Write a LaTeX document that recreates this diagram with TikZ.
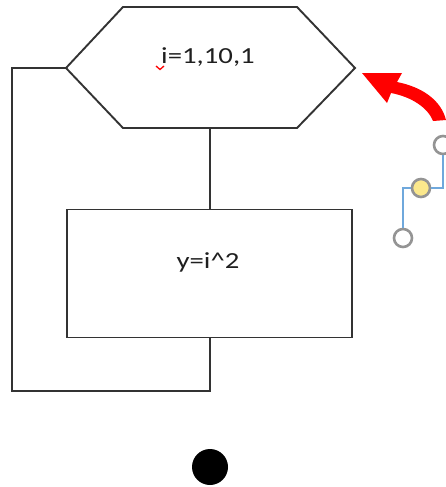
\documentclass[tikz,border=0pt]{standalone}
\usepackage{fontspec}
\newfontfamily\lab[FakeStretch=1.25]{Carlito}
\begin{document}
\begin{tikzpicture}[x=1pt,y=-1pt,
  shapeline/.style={draw=black!80, line width=1.9pt},
  labeltext/.style={font=\lab\fontsize{23}{27}\selectfont, text=black!88, inner sep=0pt},
  handle/.style={circle, draw=black!42, line width=2.6pt, minimum size=18pt, inner sep=0pt},
  handlelink/.style={line width=1.3pt, color={rgb,255:red,111;green,168;blue,220}}]
\useasboundingbox (0,0) rectangle (446,487);
% hexagon (loop header)
\coordinate (hexL) at (66,68);
\coordinate (hexR) at (355,68);
\coordinate (hexTL) at (123,7);
\coordinate (hexTR) at (297,7);
\coordinate (hexBL) at (123,128);
\coordinate (hexBR) at (297,128);
\coordinate (hexB) at (210,128);
\draw[shapeline, line join=miter] (hexL) -- (hexTL) -- (hexTR) -- (hexR) -- (hexBR) -- (hexBL) -- cycle;
\node[labeltext] (hextext) at (208,57) {i=1,10,1};
% spell-check squiggle
\draw[red, line width=1.3pt] (156,66) -- (160,69.5) -- (164,66);
% body rectangle
\node[shapeline, minimum width=285pt, minimum height=128pt, inner sep=0pt] (body) at (209.5,273.5) {};
\node[labeltext] (bodytext) at (208,262) {y=i\^{}2};
% connectors
\draw[shapeline] (hexB) -- (body.north -| hexB);
\coordinate (loopA) at (210,391);
\coordinate (loopB) at (12,391);
\coordinate (loopC) at (12,68);
\draw[shapeline, line join=miter] (body.south -| loopA) -- (loopA) -- (loopB) -- (loopC) -- (hexL);
% end dot
\node[circle, fill=black, minimum size=36pt, inner sep=0pt] (enddot) at (210,467) {};
% red curved arrow
\fill[red] (362,73) -- (402,73) -- (397,82)
  .. controls (422,87) and (441,100) .. (446,120)
  -- (433,121)
  .. controls (428,108) and (412,97) .. (391,93)
  -- (387,103) -- cycle;
% connector handles
\node[handle, fill=white] (h1) at (443,145) {};
\node[handle, fill={rgb,255:red,251;green,232;blue,140}] (h2) at (421,188) {};
\node[handle, fill=white] (h3) at (403,238) {};
\draw[handlelink] (h1.south) |- (h2.east);
\draw[handlelink] (h2.west) -| (h3.north);
\end{tikzpicture}
\end{document}
